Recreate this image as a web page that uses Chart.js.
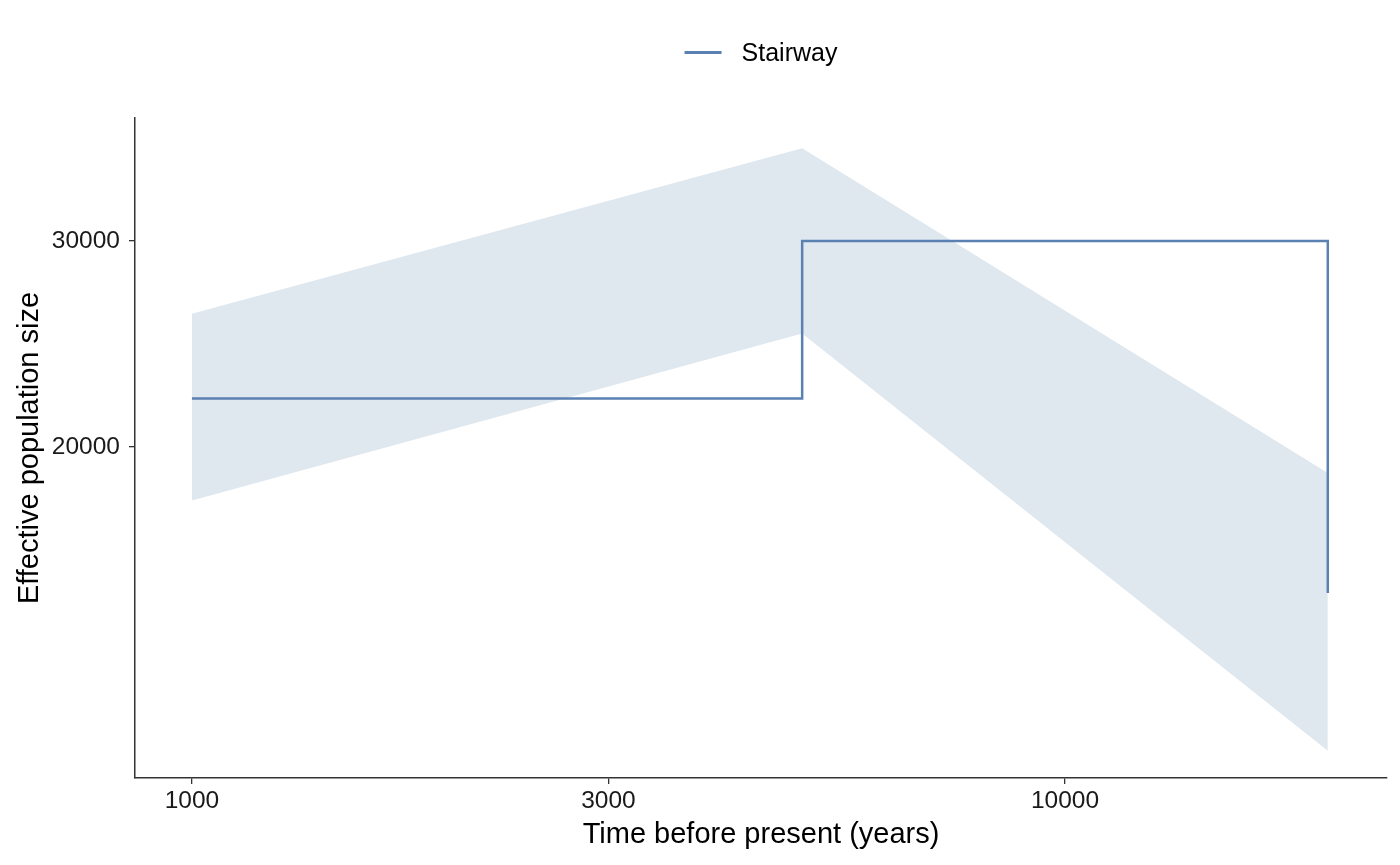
<!DOCTYPE html>
<html>
<head>
<meta charset="utf-8">
<script src="https://cdn.jsdelivr.net/npm/chart.js@4.4.0/dist/chart.umd.min.js"></script>
<style>
html, body { margin: 0; padding: 0; background: #fff; }
#wrap { width: 1400px; height: 865px; }
</style>
</head>
<body>
<div id="wrap"><canvas id="grafico" width="1400" height="865"></canvas></div>
<script>
// valores
var tempoFaixa = [1000, 5000, 20000];
var neInferior = [18000, 25000, 11000];
var neSuperior = [26000, 36000, 19000];

var tempoEscada = [1000, 5000, 5000, 20000, 20000];
var neEscada = [22000, 22000, 30000, 30000, 15000];

var ticksX = [1000, 3000, 10000];
var ticksY = [20000, 30000];
var nomeSerie = 'Stairway';

var corLinha = '#5b80b2';
var corFaixa = '#dfe7ef';
var fonte = '"Liberation Sans", Arial, sans-serif';

function pares(xs, ys) {
    return xs.map(function (x, i) { return { x: x, y: ys[i] }; });
}

// legenda desenhada a mao, centrada no painel
var legendaPlugin = {
    id: 'legendaStairway',
    afterDraw: function (chart) {
        var ctx = chart.ctx;
        var area = chart.chartArea;
        ctx.save();
        ctx.font = '25px ' + fonte;
        var larguraTexto = ctx.measureText(nomeSerie).width;
        var total = 37 + 20 + larguraTexto;
        var x0 = (area.left + area.right) / 2 - total / 2;
        ctx.strokeStyle = corLinha;
        ctx.lineWidth = 3;
        ctx.beginPath();
        ctx.moveTo(x0, 52.5);
        ctx.lineTo(x0 + 37, 52.5);
        ctx.stroke();
        ctx.fillStyle = '#000';
        ctx.textBaseline = 'middle';
        ctx.textAlign = 'left';
        ctx.fillText(nomeSerie, x0 + 57, 54);
        ctx.restore();
    }
};

var ctx = document.getElementById('grafico').getContext('2d');
var grafico = new Chart(ctx, {
    type: 'line',
    data: {
        datasets: [
            {
                label: nomeSerie,
                data: pares(tempoEscada, neEscada),
                borderColor: corLinha,
                borderWidth: 2.5,
                pointRadius: 0,
                fill: false,
                tension: 0
            },
            {
                label: 'inferior',
                data: pares(tempoFaixa, neInferior),
                borderColor: 'rgba(0,0,0,0)',
                borderWidth: 0,
                pointRadius: 0,
                fill: false
            },
            {
                label: 'superior',
                data: pares(tempoFaixa, neSuperior),
                borderColor: 'rgba(0,0,0,0)',
                backgroundColor: corFaixa,
                borderWidth: 0,
                pointRadius: 0,
                fill: '-1'
            }
        ]
    },
    options: {
        responsive: false,
        animation: false,
        devicePixelRatio: 1,
        layout: { padding: { top: 118, right: 13, left: 0, bottom: 0 } },
        plugins: {
            legend: { display: false },
            tooltip: { enabled: false }
        },
        scales: {
            x: {
                type: 'logarithmic',
                position: 'bottom',
                min: 860.6,
                max: 23380,
                bounds: 'data',
                afterBuildTicks: function (scale) {
                    scale.ticks = ticksX.map(function (v) { return { value: v }; });
                },
                afterFit: function (scale) { scale.height = 87; },
                ticks: {
                    autoSkip: false,
                    maxRotation: 0,
                    padding: 3,
                    color: '#1a1a1a',
                    font: { family: fonte, size: 24.5 },
                    callback: function (v) { return String(v); }
                },
                grid: {
                    display: true,
                    drawOnChartArea: false,
                    drawTicks: true,
                    tickLength: 6,
                    color: '#333333',
                    lineWidth: 1.3
                },
                border: { display: true, color: '#333333', width: 1.5 },
                title: {
                    display: true,
                    text: 'Time before present (years)',
                    color: '#000',
                    font: { family: fonte, size: 29 },
                    padding: { top: 0, bottom: 13 }
                }
            },
            y: {
                type: 'logarithmic',
                position: 'left',
                min: 10425,
                max: 38210,
                bounds: 'data',
                afterBuildTicks: function (scale) {
                    scale.ticks = ticksY.map(function (v) { return { value: v }; });
                },
                afterFit: function (scale) { scale.width = 135; },
                ticks: {
                    autoSkip: false,
                    padding: 9,
                    color: '#1a1a1a',
                    font: { family: fonte, size: 24.5 },
                    callback: function (v) { return String(v); }
                },
                grid: {
                    display: true,
                    drawOnChartArea: false,
                    drawTicks: true,
                    tickLength: 6,
                    color: '#333333',
                    lineWidth: 1.3
                },
                border: { display: true, color: '#333333', width: 1.5 },
                title: {
                    display: true,
                    text: 'Effective population size',
                    color: '#000',
                    font: { family: fonte, size: 29 },
                    padding: { top: 13, bottom: 0 }
                }
            }
        }
    },
    plugins: [legendaPlugin]
});
</script>
</body>
</html>
